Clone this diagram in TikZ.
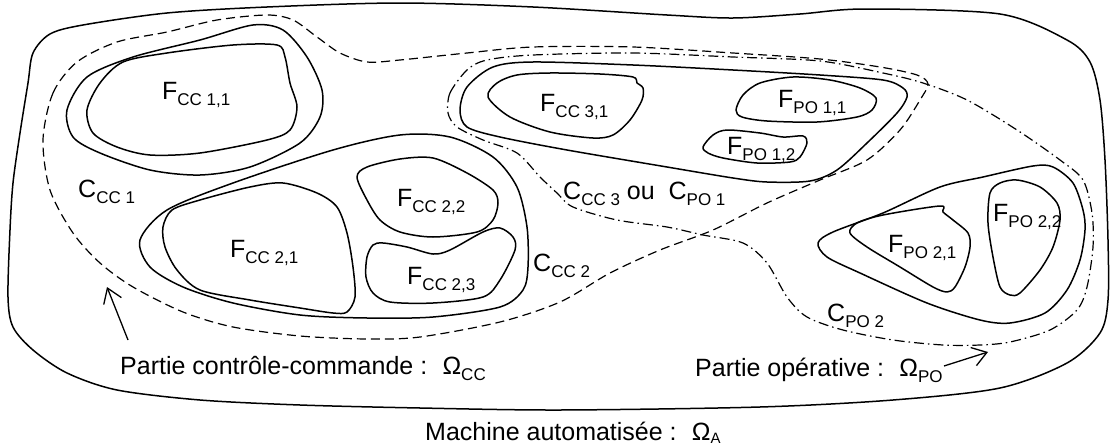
\documentclass[tikz,border=0pt]{standalone}
\usepackage{fontspec}
\setmainfont{Liberation Sans}
\usetikzlibrary{arrows.meta}
\newcommand\subx[1]{\raisebox{-6.5pt}{\fontsize{17}{17}\selectfont #1}}
\newcommand\subsmall[1]{\raisebox{-3pt}{\fontsize{15}{15}\selectfont #1}}
\begin{document}
\begin{tikzpicture}[x=1pt,y=-1pt,
  contour/.style={line width=1.5pt, line join=round},
  ccline/.style={line width=1.2pt, dash pattern=on 9pt off 5pt},
  poline/.style={line width=1.2pt, dash pattern=on 10pt off 4pt on 1.5pt off 4pt},
  lbl/.style={font=\fontsize{25}{30}\selectfont, inner sep=0pt, anchor=base west},
  pointer/.style={line width=1.3pt, -{Straight Barb[length=14pt,width=19pt]}}]
\useasboundingbox (0,0) rectangle (1111,447);

% Machine automatisee (outer)
\draw[contour] plot[smooth cycle, tension=0.5] coordinates {
 (33,53) (50,34) (83,25) (167,13) (267,7) (400,3) (533,7) (667,15) (733,18) (800,14)
 (865,9) (1000,14) (1067,40) (1090,62) (1100,100) (1105,160) (1108,240) (1108,300)
 (1100,333) (1067,363) (1000,388) (893,400) (760,407) (560,410) (420,408) (300,405)
 (200,400) (117,390) (67,373) (33,350) (13,327) (8,297) (10,230) (13,183) (20,133) (28,83)};

% Partie controle-commande (dashed)
\draw[ccline] plot[smooth cycle, tension=0.5] coordinates {
 (43,140) (53,93) (77,62) (117,42) (167,32) (217,20) (267,15) (293,20) (317,37) (340,53)
 (367,62) (400,60) (467,53) (533,47) (633,47) (733,53) (820,59) (880,67) (917,75)
 (928,84) (920,100) (900,130) (867,160) (820,180) (767,203) (713,230) (660,250)
 (610,273) (560,302) (500,322) (420,337) (367,339) (300,336) (233,327) (183,312)
 (133,287) (100,263) (73,233) (50,190)};

% Partie operative (dash-dot)
\draw[poline] plot[smooth cycle, tension=0.5] coordinates {
 (448,113) (450,93) (467,70) (487,60) (533,55) (633,53) (733,57) (820,61) (883,73)
 (923,83) (967,100) (1017,130) (1060,160) (1083,180) (1092,213) (1093,247) (1087,287)
 (1077,310) (1050,330) (1010,342) (980,345) (943,345) (893,340) (843,330) (807,317)
 (787,297) (767,263) (743,243) (703,235) (667,227) (617,220) (573,207) (557,193)
 (540,177) (517,153) (483,140) (457,127)};

% C_CC1 and F_CC1,1
\draw[contour] plot[smooth cycle, tension=0.5] coordinates {
 (67,110) (87,77) (133,57) (200,40) (253,25) (283,30) (307,57) (322,90) (320,117)
 (300,143) (250,167) (200,175) (150,170) (100,153) (73,137)};
\draw[contour] plot[smooth cycle, tension=0.5] coordinates {
 (87,110) (100,83) (123,62) (167,53) (233,45) (277,45) (285,57) (290,83) (297,107)
 (290,130) (267,140) (200,153) (150,155) (117,147) (93,133)};

% C_CC2 and its functions
\draw[contour] plot[smooth cycle, tension=0.5] coordinates {
 (140,240) (167,210) (233,183) (333,150) (400,135) (450,137) (493,157) (517,187)
 (527,227) (528,267) (523,290) (500,307) (433,317) (367,318) (300,315) (233,303)
 (183,287) (150,267)};
\draw[contour] plot[smooth cycle, tension=0.5] coordinates {
 (163,227) (172,210) (200,200) (250,187) (283,183) (317,193) (337,207) (347,233)
 (353,267) (355,297) (347,312) (333,313) (300,308) (250,300) (200,290) (177,270) (165,247)};
\draw[contour] plot[smooth cycle, tension=0.5] coordinates {
 (357,177) (367,167) (400,159) (433,158) (467,173) (493,190) (498,203) (493,220)
 (477,232) (433,237) (400,232) (380,220) (367,200)};
\draw[contour] plot[smooth cycle, tension=0.5] coordinates {
 (367,257) (373,245) (383,243) (407,247) (433,254) (450,250) (483,232) (500,228)
 (513,237) (515,250) (500,280) (483,297) (433,303) (390,302) (373,293) (366,277)};

% C_CC3 / C_PO1 and its functions
\draw[contour] plot[smooth cycle, tension=0.5] coordinates {
 (460,110) (467,87) (493,67) (533,62) (633,65) (733,70) (820,75) (883,80) (903,88)
 (907,97) (897,113) (867,143) (837,170) (810,181) (767,182) (733,178) (667,167)
 (567,150) (500,137) (467,127)};
\draw[contour] plot[smooth cycle, tension=0.5] coordinates {
 (488,97) (497,83) (517,75) (550,73) (600,74) (633,77) (637,83) (643,88) (642,100)
 (630,120) (613,135) (593,138) (550,132) (510,117)};
\draw[contour] plot[smooth cycle, tension=0.5] coordinates {
 (736,110) (743,95) (760,83) (793,77) (830,80) (860,88) (876,98) (872,110) (857,117)
 (817,122) (767,121) (742,117)};
\draw[contour] plot[smooth cycle, tension=0.5] coordinates {
 (703,147) (713,135) (727,130) (760,133) (783,137) (803,136) (807,143) (800,157)
 (790,162) (757,163) (723,158) (708,153)};

% C_PO2 and its functions
\draw[contour] plot[smooth cycle, tension=0.5] coordinates {
 (818,243) (833,232) (883,213) (940,187) (983,177) (1033,166) (1053,167) (1073,183)
 (1083,210) (1085,230) (1080,260) (1067,290) (1045,313) (1010,323) (980,320)
 (927,303) (860,273) (827,257)};
\draw[contour] plot[smooth cycle, tension=0.5] coordinates {
 (850,233) (857,223) (883,215) (940,206) (943,212) (953,220) (968,233) (970,247)
 (965,267) (955,287) (947,292) (933,287) (900,267) (867,247)};
\draw[contour] plot[smooth cycle, tension=0.5] coordinates {
 (990,193) (1000,183) (1017,180) (1040,187) (1057,203) (1060,220) (1053,247)
 (1040,270) (1020,293) (1010,295) (1000,287) (993,257) (988,223)};

% labels
\node[lbl] (fcc11) at (162,99) {F\subx{CC 1,1}};
\node[lbl] (ccc1) at (78,197) {C\subx{CC 1}};
\node[lbl] (fcc22) at (397,206) {F\subx{CC 2,2}};
\node[lbl] (fcc21) at (230,257) {F\subx{CC 2,1}};
\node[lbl] (fcc23) at (407,284) {F\subx{CC 2,3}};
\node[lbl] (ccc2) at (533,271) {C\subx{CC 2}};
\node[lbl] (fcc31) at (540,111) {F\subx{CC 3,1}};
\node[lbl] (fpo11) at (778,107) {F\subx{PO 1,1}};
\node[lbl] (fpo12) at (727,154) {F\subx{PO 1,2}};
\node[lbl] (ccc3) at (563,199) {C\subx{CC 3} ou\ \ C\subx{PO 1}};
\node[lbl] (fpo22) at (993,221) {F\subx{PO 2,2}};
\node[lbl] (fpo21) at (888,252) {F\subx{PO 2,1}};
\node[lbl] (cpo2) at (827,321) {C\subx{PO 2}};
\node[lbl] (omcc) at (120,374) {Partie contrôle-commande :\hspace{6pt} Ω\subx{CC}};
\node[lbl] (ompo) at (695,376) {Partie opérative :\hspace{6pt} Ω\subx{PO}};
\node[lbl] (oma) at (425,440) {Machine automatisée :\hspace{6pt} Ω\subsmall{A}};

% pointers
\coordinate (tcc) at (128,340);
\coordinate (hcc) at (107,287);
\coordinate (tpo) at (944,366);
\coordinate (hpo) at (988,352);
\draw[pointer] (tcc) -- (hcc);
\draw[pointer] (tpo) -- (hpo);
\end{tikzpicture}
\end{document}
